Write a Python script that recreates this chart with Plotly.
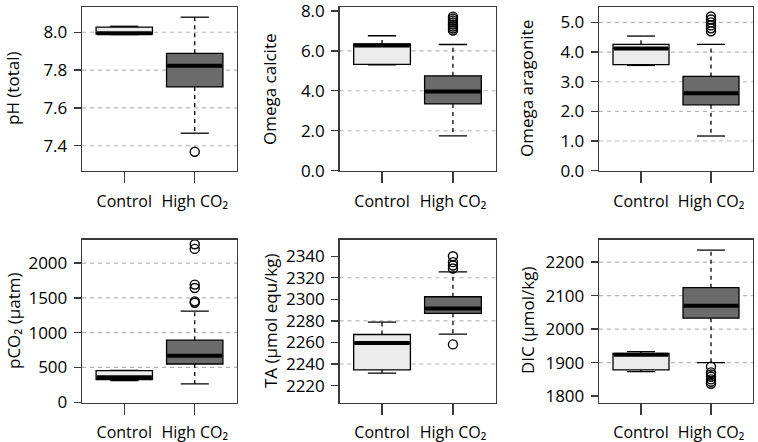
import plotly.graph_objects as go

# ---------------- data ----------------
groups = ["Control", "High CO₂"]
positions = [1, 2]
# stats order: [lower whisker, q1, median, q3, upper whisker]
ph_control = [7.988, 7.990, 7.995, 8.028, 8.032]
ph_high = [7.466, 7.711, 7.823, 7.889, 8.080]
ph_high_out = [7.368]

calc_control = [5.30, 5.32, 6.27, 6.35, 6.76]
calc_high = [1.74, 3.34, 3.97, 4.75, 6.32]
calc_high_out = [7.02, 7.12, 7.22, 7.32, 7.42, 7.52, 7.62, 7.72]

arag_control = [3.55, 3.58, 4.12, 4.26, 4.54]
arag_high = [1.17, 2.22, 2.61, 3.18, 4.26]
arag_high_out = [4.70, 4.80, 4.90, 5.00, 5.10, 5.20]

pco2_control = [310, 324, 357, 453, 456]
pco2_high = [263, 549, 667, 891, 1310]
pco2_high_out = [1430, 1450, 1643, 1691, 2205, 2271]

ta_control = [2231.6, 2234.6, 2259.6, 2267.4, 2278.8]
ta_high = [2267.8, 2287.0, 2291.6, 2302.4, 2325.5]
ta_high_out = [2258.2, 2328.6, 2331.4, 2334.5, 2340.0]

dic_control = [1873.2, 1878.3, 1923.8, 1927.7, 1932.7]
dic_high = [1900.0, 2032.7, 2069.6, 2123.8, 2235.7]
dic_high_out = [1888, 1871, 1865, 1858, 1850, 1843, 1837]

y_titles = ["pH (total)", "Omega calcite", "Omega aragonite",
            "pCO₂ (µatm)", "TA (µmol equ/kg)", "DIC (µmol/kg)"]

ph_ticks = [7.4, 7.6, 7.8, 8.0]
calc_ticks = [0, 2, 4, 6, 8]
arag_ticks = [0, 1, 2, 3, 4, 5]
pco2_ticks = [0, 500, 1000, 1500, 2000]
ta_ticks = [2220, 2240, 2260, 2280, 2300, 2320, 2340]
dic_ticks = [1800, 1900, 2000, 2100, 2200]

ph_grid = [7.4, 7.6, 7.8, 8.0]
calc_grid = [2, 4, 6]
arag_grid = [1, 2, 3, 4, 5]
pco2_grid = [500, 1000, 1500, 2000]
ta_grid = [2240, 2280, 2320]
dic_grid = [1900, 2000, 2100, 2200]

# ---------------- layout / style ----------------
W, H = 758, 442
cols_px = [(82, 237), (339.5, 495.5), (599, 753)]
rows_px = [(7, 171), (239.5, 402.5)]
title_x_px = [13, 270, 527]
y_ranges = [[7.266, 8.134], [-0.02, 8.2], [-0.01, 5.52],
            [-5, 2340], [2204.3, 2355.5], [1781, 2267.6]]
tick_fmt = [".1f", ".1f", ".1f", "d", "d", "d"]

panels = [
    (ph_control, ph_high, ph_high_out, ph_ticks, ph_grid),
    (calc_control, calc_high, calc_high_out, calc_ticks, calc_grid),
    (arag_control, arag_high, arag_high_out, arag_ticks, arag_grid),
    (pco2_control, pco2_high, pco2_high_out, pco2_ticks, pco2_grid),
    (ta_control, ta_high, ta_high_out, ta_ticks, ta_grid),
    (dic_control, dic_high, dic_high_out, dic_ticks, dic_grid),
]

FONT = "Open Sans, Noto Sans, sans-serif"
fills = ["#ebebeb", "#6b6b6b"]
FRAME = "#3a3a3a"
BOXW = 0.8

fig = go.Figure()
layout = dict(
    template="none",
    width=W, height=H, margin=dict(l=0, r=0, t=0, b=0, autoexpand=False),
    paper_bgcolor="white", plot_bgcolor="white", showlegend=False,
    font=dict(family=FONT, size=14, color="black"),
)
shapes = []
annotations = []

for i, (ctrl, high, outs, ticks, grid) in enumerate(panels):
    r, c = divmod(i, 3)
    n = i + 1
    xa = "x" if n == 1 else f"x{n}"
    ya = "y" if n == 1 else f"y{n}"
    xkey = "xaxis" if n == 1 else f"xaxis{n}"
    ykey = "yaxis" if n == 1 else f"yaxis{n}"
    x0, x1 = cols_px[c]
    t0, t1 = rows_px[r]
    layout[xkey] = dict(
        domain=[x0 / W, x1 / W], anchor=ya, range=[0.4, 2.6], automargin=False,
        tickmode="array", tickvals=positions, ticktext=groups,
        ticks="outside", ticklen=11, tickwidth=1.3, tickcolor=FRAME,
        showline=True, linecolor=FRAME, linewidth=1.3, mirror=True,
        showgrid=False, zeroline=False, fixedrange=True, ticklabeloverflow="allow",
        tickfont=dict(size=16), ticklabelstandoff=4,
    )
    layout[ykey] = dict(
        domain=[1 - t1 / H, 1 - t0 / H], anchor=xa, range=y_ranges[i], automargin=False,
        tickmode="array", tickvals=ticks,
        ticktext=[format(v, tick_fmt[i]) for v in ticks],
        ticks="outside", ticklen=7, tickwidth=1.3, tickcolor=FRAME,
        showline=True, linecolor=FRAME, linewidth=1.3, mirror=True,
        showgrid=False, zeroline=False, fixedrange=True, ticklabeloverflow="allow",
        tickfont=dict(size=17), ticklabelstandoff=3,
    )
    for g in grid:
        shapes.append(dict(type="line", xref=f"{xa} domain", yref=ya,
                           x0=0, x1=1, y0=g, y1=g, layer="below",
                           line=dict(color="#b5b5b5", width=1.1, dash="4px,4px")))
    annotations.append(dict(
        x=title_x_px[c] / W, y=1 - (t0 + t1) / 2 / H, xref="paper", yref="paper",
        text=y_titles[i], textangle=-90, showarrow=False,
        font=dict(size=17), xanchor="center", yanchor="middle"))

    for pos, stats, fill in zip(positions, [ctrl, high], fills):
        lo, q1, med, q3, up = stats
        fig.add_trace(go.Box(
            x=[pos], q1=[q1], median=[med], q3=[q3], lowerfence=[q1], upperfence=[q3],
            width=BOXW, fillcolor=fill, line=dict(color="black", width=1.3),
            xaxis=xa, yaxis=ya, hoverinfo="skip", boxpoints=False))
        # dashed whiskers
        fig.add_trace(go.Scatter(x=[pos, pos, None, pos, pos], y=[q3, up, None, q1, lo],
                                 mode="lines", xaxis=xa, yaxis=ya, hoverinfo="skip",
                                 line=dict(color="black", width=1.3, dash="4px,4px")))
        # staples
        fig.add_trace(go.Scatter(x=[pos - BOXW / 4, pos + BOXW / 4, None, pos - BOXW / 4, pos + BOXW / 4],
                                 y=[up, up, None, lo, lo],
                                 mode="lines", xaxis=xa, yaxis=ya, hoverinfo="skip",
                                 line=dict(color="black", width=1.3)))
        # thick median
        fig.add_trace(go.Scatter(x=[pos - BOXW / 2 + 0.01, pos + BOXW / 2 - 0.01], y=[med, med],
                                 mode="lines", xaxis=xa, yaxis=ya, hoverinfo="skip",
                                 line=dict(color="black", width=4)))
    fig.add_trace(go.Scatter(x=[positions[1]] * len(outs), y=outs, mode="markers",
                             xaxis=xa, yaxis=ya, hoverinfo="skip",
                             marker=dict(symbol="circle-open", size=9, color="black",
                                         line=dict(width=1.4, color="black"))))

layout["shapes"] = shapes
layout["annotations"] = annotations
fig.update_layout(**layout)
fig.write_html("out.html", config={"displayModeBar": False, "staticPlot": True},
               post_script="document.body.style.margin='0';document.documentElement.style.margin='0';")
